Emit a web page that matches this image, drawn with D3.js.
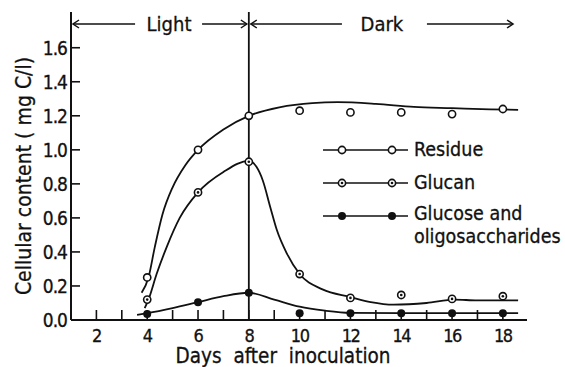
<!DOCTYPE html>
<html>
<head>
<meta charset="utf-8">
<script src="https://cdn.jsdelivr.net/npm/d3@7"></script>
<style>
  body { margin: 0; background: #fff; }
  text { font-family: "DejaVu Sans Condensed", "DejaVu Sans", sans-serif; font-stretch: condensed; fill: #111; stroke: #111; stroke-width: 0.3px; }
</style>
</head>
<body>
<script>
// measured values (mg C/l)
const days = [4, 6, 8, 10, 12, 14, 16, 18];
const residue = [0.25, 1.0, 1.2, 1.23, 1.22, 1.22, 1.21, 1.24];
const glucan = [0.12, 0.75, 0.93, 0.27, 0.13, 0.147, 0.124, 0.14];
const glucose = [0.035, 0.105, 0.16, 0.04, 0.04, 0.04, 0.04, 0.04];

// hand drawn fitted curves as [day, value]
const residueFit = [[3.78,0.16],[4.05,0.25],[4.3,0.43],[4.6,0.62],[5,0.78],[5.5,0.91],[6,1.0],[7,1.12],[8,1.2],[9.2,1.25],[10.5,1.275],[11.5,1.28],[13,1.27],[14.5,1.252],[16,1.245],[17.5,1.238],[18.6,1.235]];
const glucanFit = [[3.9,0.07],[4.05,0.12],[4.37,0.27],[4.77,0.43],[5.28,0.6],[6,0.75],[7,0.87],[8,0.935],[8.3,0.9],[8.55,0.82],[8.85,0.66],[9.1,0.53],[9.5,0.39],[10,0.27],[10.9,0.18],[12,0.135],[12.8,0.105],[13.7,0.09],[15,0.10],[16.1,0.12],[17,0.115],[18.6,0.115]];
const glucoseFit = [[3.6,0.03],[4,0.04],[5,0.07],[6,0.105],[7,0.14],[8,0.16],[9,0.12],[10,0.078],[11,0.055],[12,0.042],[14,0.04],[18.6,0.04]];

const xTicks = [2, 4, 6, 8, 10, 12, 14, 16, 18];
const xMinor = [3, 5, 7, 9, 11, 13, 15, 17];
const yTicks = [0, 0.2, 0.4, 0.6, 0.8, 1.0, 1.2, 1.4, 1.6];
const phases = [{label: "Light", from: 1, to: 8, mid: 4.86}, {label: "Dark", from: 8, to: 18.4, mid: 13.24}];
const seriesNames = ["Residue", "Glucan", "Glucose and|oligosaccharides"];

const width = 565, height = 367;
const x = d3.scaleLinear().domain([1, 18.95]).range([71, 527]);
const y = d3.scaleLinear().domain([0, 1.81]).range([320, 12]);

const svg = d3.select("body").append("svg")
    .attr("width", width)
    .attr("height", height);

const ink = "#111";

// axes
svg.append("line").attr("x1", x(1)).attr("x2", x(1)).attr("y1", y(1.81)).attr("y2", y(0))
    .attr("stroke", ink).attr("stroke-width", 2);
svg.append("line").attr("x1", x(1)).attr("x2", x(18.95)).attr("y1", y(0)).attr("y2", y(0))
    .attr("stroke", ink).attr("stroke-width", 2);

// y ticks point inward
svg.selectAll(".ytick").data(yTicks).enter().append("line")
    .attr("x1", x(1)).attr("x2", x(1) + 9)
    .attr("y1", d => y(d)).attr("y2", d => y(d))
    .attr("stroke", ink).attr("stroke-width", 1.6);
svg.selectAll(".ylab").data(yTicks).enter().append("text")
    .attr("x", 67).attr("y", d => y(d) + 7)
    .attr("text-anchor", "end")
    .style("font-size", "19px").style("letter-spacing", "-1px")
    .text(d => d.toFixed(1));

// x ticks point up
svg.selectAll(".xtick").data(xTicks.concat(xMinor)).enter().append("line")
    .attr("x1", d => x(d)).attr("x2", d => x(d))
    .attr("y1", y(0)).attr("y2", y(0) - 10)
    .attr("stroke", ink).attr("stroke-width", 1.6);
svg.selectAll(".xlab").data(xTicks).enter().append("text")
    .attr("x", d => x(d)).attr("y", 342)
    .attr("text-anchor", "middle")
    .style("font-size", "18px").style("letter-spacing", "-1.5px")
    .text(d => d);

svg.append("text")
    .attr("x", 283).attr("y", 363)
    .attr("text-anchor", "middle")
    .style("font-size", "20.5px").style("word-spacing", "6px")
    .text("Days after inoculation");

svg.append("text")
    .attr("transform", "translate(31,176) rotate(-90)")
    .attr("text-anchor", "middle")
    .style("font-size", "21px")
    .text("Cellular content ( mg C/l)");

// light / dark divider
svg.append("line").attr("x1", x(8)).attr("x2", x(8)).attr("y1", y(1.81)).attr("y2", y(0))
    .attr("stroke", ink).attr("stroke-width", 1.8);

// header arrows
const hy = 24;
function arrowHead(px, dir) {
  svg.append("path")
    .attr("d", `M${px + dir * 6},${hy - 4}L${px},${hy}L${px + dir * 6},${hy + 4}`)
    .attr("fill", "none").attr("stroke", ink).attr("stroke-width", 1.5);
}
phases.forEach(function(p, i) {
  const x0 = x(p.from) + 2, x1 = x(p.to) - (i === 0 ? 2 : 0);
  const xm = x(p.mid);
  const gapL = i === 0 ? 34 : 40, gapR = i === 0 ? 33 : 45;
  svg.append("line").attr("x1", x0).attr("x2", xm - gapL).attr("y1", hy).attr("y2", hy)
      .attr("stroke", ink).attr("stroke-width", 1.6);
  svg.append("line").attr("x1", xm + gapR).attr("x2", x1).attr("y1", hy).attr("y2", hy)
      .attr("stroke", ink).attr("stroke-width", 1.6);
  arrowHead(x0, 1);
  arrowHead(x1, -1);
  svg.append("text").attr("x", xm).attr("y", hy + 7)
      .attr("text-anchor", "middle").style("font-size", "20px")
      .text(p.label);
});

// fitted curves
const fitLine = d3.line()
    .x(d => x(d[0]))
    .y(d => y(d[1]))
    .curve(d3.curveMonotoneX);
[residueFit, glucanFit, glucoseFit].forEach(function(f) {
  svg.append("path").datum(f)
      .attr("d", fitLine)
      .attr("fill", "none").attr("stroke", ink).attr("stroke-width", 1.8);
});

// markers
function drawMarker(g, cx, cy, kind) {
  if (kind === 2) {
    g.append("circle").attr("cx", cx).attr("cy", cy).attr("r", 4).attr("fill", ink);
  } else {
    g.append("circle").attr("cx", cx).attr("cy", cy).attr("r", 3.6)
        .attr("fill", "#fff").attr("stroke", ink).attr("stroke-width", 1.6);
    if (kind === 1)
      g.append("circle").attr("cx", cx).attr("cy", cy).attr("r", 1.3).attr("fill", ink);
  }
}
const allSeries = [residue, glucan, glucose];
for (let s = 0; s < allSeries.length; s++) {
  const vals = allSeries[s];
  for (let j = 0; j < days.length; j++) {
    drawMarker(svg, x(days[j]), y(vals[j]), s);
  }
}

// legend
const legY = [150, 183, 216];
for (let s = 0; s < seriesNames.length; s++) {
  const ly = legY[s];
  svg.append("line").attr("x1", 323).attr("x2", 408).attr("y1", ly).attr("y2", ly)
      .attr("stroke", ink).attr("stroke-width", 1.6);
  drawMarker(svg, 342, ly, s);
  drawMarker(svg, 392, ly, s);
  const parts = seriesNames[s].split("|");
  parts.forEach(function(p, k) {
    svg.append("text").attr("x", 414).attr("y", ly + (parts.length > 1 ? 4 : 6) + k * 23)
        .style("font-size", "19.5px")
        .text(p);
  });
}
</script>
</body>
</html>
